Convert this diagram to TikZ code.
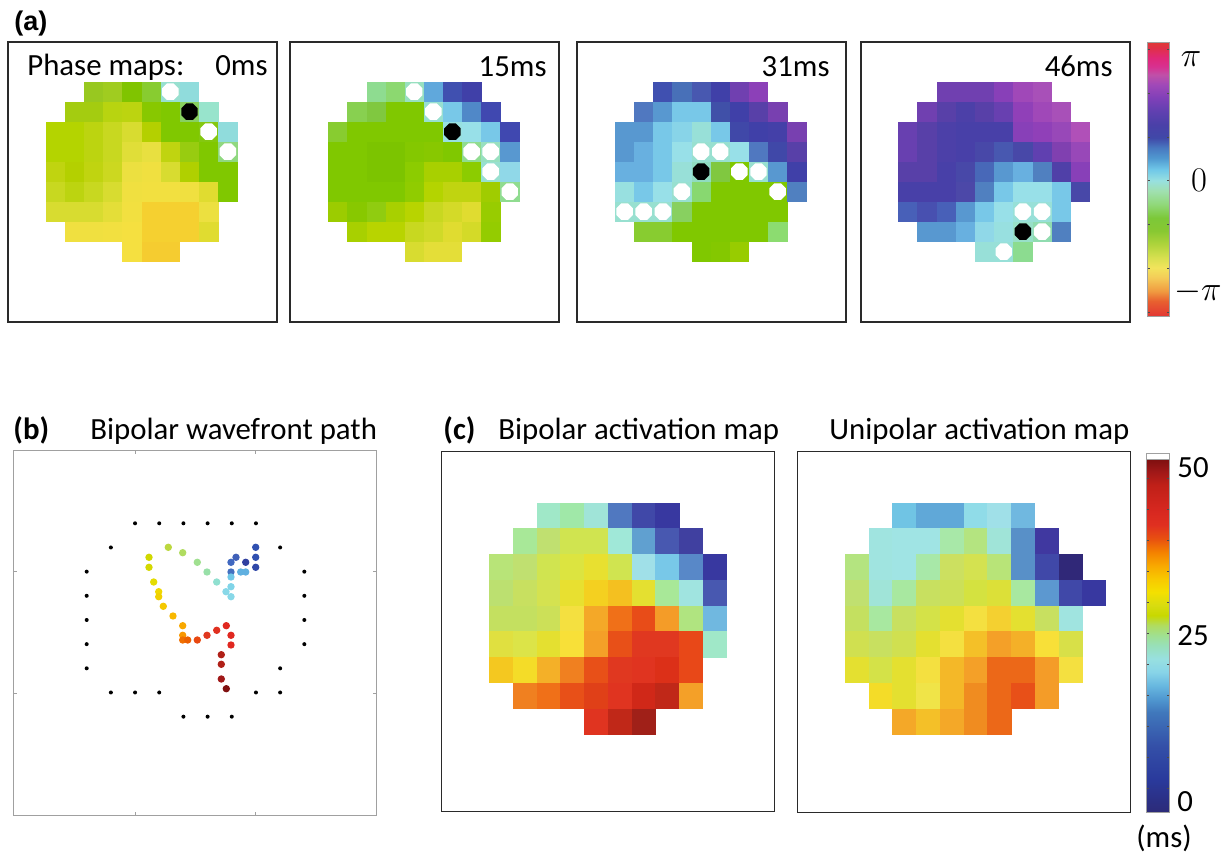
\documentclass[tikz,border=0pt]{standalone}
\usepackage[no-math]{fontspec}
\setmainfont{Carlito}
\newfontfamily\arialfont{Liberation Sans}

% colour bar stops
\definecolor{pb01}{HTML}{E23434}\definecolor{pb02}{HTML}{E8602F}\definecolor{pb03}{HTML}{F09A40}
\definecolor{pb04}{HTML}{F4CC58}\definecolor{pb05}{HTML}{F2E45C}\definecolor{pb06}{HTML}{D8E050}
\definecolor{pb07}{HTML}{B0D43C}\definecolor{pb08}{HTML}{88C832}\definecolor{pb09}{HTML}{7CC838}
\definecolor{pb10}{HTML}{90D878}\definecolor{pb11}{HTML}{A0E0B0}\definecolor{pb12}{HTML}{98E0E0}
\definecolor{pb13}{HTML}{70C8E8}\definecolor{pb14}{HTML}{5098D0}\definecolor{pb15}{HTML}{4878C0}
\definecolor{pb16}{HTML}{4048A8}\definecolor{pb17}{HTML}{4A40A8}\definecolor{pb18}{HTML}{6040B0}
\definecolor{pb19}{HTML}{8040B8}\definecolor{pb20}{HTML}{A048B8}\definecolor{pb21}{HTML}{C050A8}
\definecolor{pb22}{HTML}{D83090}\definecolor{pb23}{HTML}{E02878}\definecolor{pb24}{HTML}{E03048}
\definecolor{pb25}{HTML}{E03838}
\pgfdeclareverticalshading{phasebar}{100bp}{color(0bp)=(pb01); color(25bp)=(pb01);
  color(27.9bp)=(pb02); color(29.7bp)=(pb03); color(32.2bp)=(pb04); color(34bp)=(pb05);
  color(35.8bp)=(pb06); color(38.2bp)=(pb07); color(40.7bp)=(pb08); color(43.1bp)=(pb09);
  color(45.5bp)=(pb10); color(48bp)=(pb11); color(49.9bp)=(pb12); color(51.9bp)=(pb13);
  color(54bp)=(pb14); color(55.9bp)=(pb15); color(57.7bp)=(pb16); color(60.1bp)=(pb17);
  color(62.5bp)=(pb18); color(65bp)=(pb19); color(67.4bp)=(pb20); color(69.2bp)=(pb21);
  color(70.7bp)=(pb22); color(72.3bp)=(pb23); color(74.1bp)=(pb24); color(75bp)=(pb25);
  color(100bp)=(pb25)}

\definecolor{ab01}{HTML}{2C2A78}\definecolor{ab02}{HTML}{2A3A9C}\definecolor{ab03}{HTML}{3450A8}
\definecolor{ab04}{HTML}{4078BC}\definecolor{ab05}{HTML}{5098D0}\definecolor{ab06}{HTML}{68B8E0}
\definecolor{ab07}{HTML}{88D4E8}\definecolor{ab08}{HTML}{98E0E0}\definecolor{ab09}{HTML}{98E0B8}
\definecolor{ab10}{HTML}{A0E090}\definecolor{ab11}{HTML}{B0DC60}\definecolor{ab12}{HTML}{C8D800}
\definecolor{ab13}{HTML}{D8DC10}\definecolor{ab14}{HTML}{F4E000}\definecolor{ab15}{HTML}{F8C800}
\definecolor{ab16}{HTML}{F8A800}\definecolor{ab17}{HTML}{F48000}\definecolor{ab18}{HTML}{E85010}
\definecolor{ab19}{HTML}{E03020}\definecolor{ab20}{HTML}{D82820}\definecolor{ab21}{HTML}{C02018}
\definecolor{ab22}{HTML}{A01818}\definecolor{ab23}{HTML}{801010}
\pgfdeclareverticalshading{actbar}{100bp}{color(0bp)=(ab01); color(25bp)=(ab01);
  color(29.74bp)=(ab02); color(34.48bp)=(ab03); color(39.22bp)=(ab04); color(41.11bp)=(ab05);
  color(43.01bp)=(ab06); color(44.91bp)=(ab07); color(46.8bp)=(ab08); color(48.7bp)=(ab09);
  color(50.12bp)=(ab10); color(51.54bp)=(ab11); color(52.96bp)=(ab12); color(54.38bp)=(ab13);
  color(56.28bp)=(ab14); color(58.18bp)=(ab15); color(60.07bp)=(ab16); color(61.97bp)=(ab17);
  color(63.86bp)=(ab18); color(65.76bp)=(ab19); color(67.65bp)=(ab20); color(71.45bp)=(ab21);
  color(73.34bp)=(ab22); color(75bp)=(ab23); color(100bp)=(ab23)}

\definecolor{frame}{HTML}{2A2A2A}
\definecolor{axisgray}{HTML}{A0A0A0}

% one row of coloured electrode cells: x0, y0, cell width, cell height, row, first column, colours
\newcommand\maprow[7]{%
  \foreach \hx [count=\ci from #6] in {#7}{%
    \edef\tmp{\noexpand\definecolor{cellc}{HTML}{\hx}}\tmp
    \fill[cellc] ({#1+\ci*#3},{#2+#5*#4}) rectangle ({#1+(\ci+1)*#3+0.4},{#2+(#5+1)*#4+0.4});
  }}
\newcommand\prow[3]{\maprow{\mx}{\my}{\mw}{\mh}{#1}{#2}{#3}}
% phase singularity markers (small octagons) at cell centres: colour, row, column
\newcommand\octmark[3]{%
  \pgfmathsetmacro\cx{\mx+(#3+0.5)*\mw}%
  \pgfmathsetmacro\cy{\my+(#2+0.5)*\mh}%
  \fill[#1] ({\cx+8.9*cos(22.5)},{\cy+8.9*sin(22.5)})
    \foreach \a in {67.5,112.5,...,337.5}{ -- ({\cx+8.9*cos(\a)},{\cy+8.9*sin(\a)}) } -- cycle;}
\newcommand\wmark[2]{\octmark{white}{#1}{#2}}
\newcommand\bmark[2]{\octmark{black}{#1}{#2}}

\begin{document}
\begin{tikzpicture}[x=0.5pt,y=-0.5pt,
  txt/.style={inner sep=0pt,font=\fontsize{15.4}{18}\selectfont},
  panellabel/.style={inner sep=0pt,font=\fontsize{15.4}{18}\selectfont\bfseries},
  mathlabel/.style={inner sep=0pt,font=\fontsize{19}{22}\selectfont},
  mapframe/.style={draw=frame,line width=0.7pt},
  barframe/.style={draw=axisgray,line width=0.5pt},
  bartick/.style={draw=black!70,line width=0.4pt}]
\useasboundingbox (0,0) rectangle (1229,854);
\fill[white] (0,0) rectangle (1229,854);

% ---------------- (a) phase maps ----------------
\node[inner sep=0pt,font=\arialfont\fontsize{13.5}{16}\selectfont\bfseries,anchor=west] (lblA) at (14,24) {(a)};

% 0 ms
\def\mx{45.7}\def\my{81.7}\def\mw{19.17}\def\mh{20}
\prow{0}{2}{98C820,A0CC20,80C400,88CC30,98E0D0,90DCDC}
\prow{1}{1}{A4CC10,A4CC10,B8D410,BCD410,88C800,80C800,88D060,98E4CC}
\prow{2}{0}{B4D400,B4D400,BCD410,C8D820,D8DC30,B4D000,80C800,80C800,84C810,90DCDC}
\prow{3}{0}{B4D400,B4D400,BCD410,C8D820,E0DE38,E8E040,C0D410,98CC10,80C800,90D880}
\prow{4}{0}{C0D410,B4D000,C0D410,CCD820,ECE040,F0E040,D8DC30,B0D000,80C800,80C800}
\prow{5}{0}{C8D820,BCD410,C8D820,D8DC30,F0E040,F2E040,F2E040,F0E040,E0DC30,80C800}
\prow{6}{0}{D8DC30,D8DC30,D8DC30,E4DE38,F2E040,F5D030,F5D030,F5D030,ECE040}
\prow{7}{1}{F0E040,F0E040,F2E040,F5E040,F5D030,F5D030,F5D030,E0DC30}
\prow{8}{4}{F5E040,F5CC30,F5CC30}
\wmark{0}{6}\wmark{2}{8}\wmark{3}{9}\bmark{1}{7}
\draw[mapframe] (8,42) rectangle (277,322);
\node[txt,anchor=base west] (phasetitle) at (27,76) {Phase maps:};
\node[txt,anchor=base east] (t0) at (268,76) {0ms};

% 15 ms
\def\mx{328.3}\def\my{81.7}\def\mw{19.1}\def\mh{20}
\prow{0}{2}{8EDC90,8CD870,98E0C0,60A8DC,4050B0,4040A8}
\prow{1}{1}{88D050,80C840,80C800,80C800,98E0D0,78C8E8,5088C8,4048B0}
\prow{2}{0}{88CC30,80C800,80C800,80C800,80C800,80C800,98E0E0,98E0E8,78C8E8,4048B0}
\prow{3}{0}{80C800,80C800,7CC400,7CC400,84C800,88C800,80C800,90DC90,98E0C0,5898D0}
\prow{4}{0}{80C800,80C800,7CC400,7CC400,8CCC00,A8D000,A8D000,8CCC00,98E0D0,90D8E8}
\prow{5}{0}{80C800,80C800,80C800,80C800,90CC00,B4D400,C0D410,C0D410,A0CC00,90DC90}
\prow{6}{0}{9CCC00,88C800,90CC10,A8D000,B8D400,C8D820,D4DA28,E0DC30,98CC00}
\prow{7}{1}{A8D000,B8D400,B8D400,C8D820,D0DA28,E0DC30,D4DA28,94CC00}
\prow{8}{4}{D8DC30,E4DE38,E4DE38}
\wmark{0}{4}\wmark{1}{5}\wmark{3}{7}\wmark{3}{8}\wmark{4}{8}\wmark{5}{9}\bmark{2}{6}
\draw[mapframe] (290,42) rectangle (559,322);
\node[txt,anchor=base east] (t15) at (547,76.5) {15ms};

% 31 ms
\def\mx{615}\def\my{81.7}\def\mw{19.13}\def\mh{20}
\prow{0}{2}{4050B0,4870B8,4858B0,4040A8,7040B0,8C40B8}
\prow{1}{1}{5078C0,5898D0,78C8E8,78C8E8,4050A8,4040A8,5840A8,7840B0}
\prow{2}{0}{5898D0,5898D0,78C8E8,88D4E8,98E0D8,78C8E8,4048A8,4040A8,4440A8,7840B0}
\prow{3}{0}{5898D0,68B0E0,78C8E8,98E0E8,98E0D0,98E0D0,98E0E8,5078C0,4048A8,5840A8}
\prow{4}{0}{68B0E0,68B0E0,78C8E8,98E0D8,90DCC0,80C840,80C800,98E0D0,5898D0,4040A8}
\prow{5}{0}{98E0E0,78C8E8,98E0E8,98E0D0,88D870,80C800,80C800,80C800,80C800,5080C0}
\prow{6}{0}{98E0D0,98E0D0,98E0D0,88D060,80C800,80C800,80C800,80C800,80C800}
\prow{7}{1}{88CC30,88CC30,80C800,80C800,80C800,80C800,80C800,8CDC70}
\prow{8}{4}{80C800,84C800,98CC00}
\wmark{3}{4}\wmark{3}{5}\wmark{4}{6}\wmark{4}{7}\wmark{5}{3}\wmark{5}{8}
\wmark{6}{0}\wmark{6}{1}\wmark{6}{2}\bmark{4}{4}
\draw[mapframe] (577,42) rectangle (846,322);
\node[txt,anchor=base east] (t31) at (830,76.5) {31ms};

% 46 ms
\def\mx{898.3}\def\my{81.7}\def\mw{19.17}\def\mh{20}
\prow{0}{2}{7040B0,7040B0,7040B0,8840B8,A048B8,A850B8}
\prow{1}{1}{7040B0,5840A8,4C40A8,5840A8,6840B0,9040B8,A048B8,A850B8}
\prow{2}{0}{6840B0,5840A8,4C40A8,4840A8,4840A8,4840A8,8840B8,9040B8,9848B8,B050B8}
\prow{3}{0}{6840B0,5840A8,4C40A8,4840A8,4848A8,4858B0,4848A8,6040B0,8040B0,9848B8}
\prow{4}{0}{5840A8,5840A8,4840A8,4848A8,4868B8,5898D0,68B0E0,5080C0,5040A8,8840B8}
\prow{5}{0}{4840A8,4840A8,4840A8,4C48A8,5080C0,78C8E8,98E0E8,98E0E8,78C8E8,4848A8}
\prow{6}{0}{4860B8,4850B0,4860B8,5898D0,78C8E8,98E0E8,98E0D8,98E0D8,78C8E8}
\prow{7}{1}{5898D0,5898D0,68B0E0,90D8E8,98E0E0,98E0C8,90DCB0,5080C0}
\prow{8}{4}{98E0D8,98E0D8,8CDC90}
\wmark{6}{6}\wmark{6}{7}\wmark{7}{7}\wmark{8}{5}\bmark{7}{6}
\draw[mapframe] (861,42) rectangle (1130,322);
\node[txt,anchor=base east] (t46) at (1113,76.5) {46ms};

% phase colour bar
\shade[shading=phasebar] (1147.7,43) rectangle (1169.3,317);
\draw[barframe] (1147.7,43) rectangle (1169.3,317);
\foreach \ty in {49,93,137,180.7,224.7,268,312}{
  \draw[bartick] (1147.7,\ty) -- ++(2.5,0);
  \draw[bartick] (1169.3,\ty) -- ++(-2.5,0);}
\node[mathlabel] (piTop) at (1191,59) {$\pi$};
\node[mathlabel] (zeroPh) at (1199,180) {$0$};
\node[mathlabel] (piBot) at (1198,292) {$-\pi$};

% ---------------- (b) wavefront path ----------------
\node[panellabel,anchor=base west] (lblB) at (13,440) {(b)};
\node[txt,anchor=base west] (titleB) at (90,440) {Bipolar wavefront path};
\draw[axisgray,line width=0.5pt] (13.3,450.7) rectangle (376.7,815);
\foreach \tx in {135,255.7}{
  \draw[axisgray,line width=0.5pt] (\tx,450.7) -- ++(0,3.5);
  \draw[axisgray,line width=0.5pt] (\tx,815) -- ++(0,-3.5);}
\foreach \ty in {571.7,693.3}{
  \draw[axisgray,line width=0.5pt] (13.3,\ty) -- ++(3.5,0);
  \draw[axisgray,line width=0.5pt] (376.7,\ty) -- ++(-3.5,0);}
% electrode positions
\foreach \i/\j in {2/0,3/0,4/0,5/0,6/0,7/0,1/1,8/1,0/2,9/2,0/3,9/3,0/4,9/4,0/5,9/5,
                   0/6,8/6,1/7,2/7,3/7,7/7,8/7,4/8,5/8,6/8}{
  \fill[black] ({86.7+24.18*\i},{523.3+24.17*\j}) circle (2);}
% wavefront positions, coloured by time
\foreach \px/\py/\hx in {
  255.7/547.3/3050B0, 255.7/557.3/3050B0, 255.7/567.3/3048A8, 245.7/562.3/3040A0,
  236/557.3/4060B8, 231/562.3/4068C0, 231/572/4470C0, 240.7/572/60B0E0, 245.7/572/60B0E0,
  231/577/70C8E8, 231/586.7/80D4E8, 226/591.7/88D8E8, 231/596.7/88D8E8,
  216.7/582/90E0D0, 207/572/98E0A8, 197.3/562.3/A0E090, 182.7/552.7/B0DC60,
  168.3/547.3/BCD840, 149/557.3/D0D800, 149/567.3/D4D800, 153.7/582/E4DC00,
  158.7/591.7/F0D800, 158.7/596.7/F0D000, 163.3/606.3/F4C800, 173/616/F8B800,
  182.7/625.7/F8A800, 182.7/635.3/F89800, 182.7/640/F07000, 187.7/640/EC6000,
  197.3/640/E84810, 207/635.3/E03820, 216.7/630.3/E03020, 226.3/625.7/E02820,
  231/635.3/E02820, 231/645/E02820, 221.3/654.7/B02018, 221.3/664.3/B02018,
  221.3/679/A01818, 226.3/688.7/801010}{
  \edef\tmp{\noexpand\definecolor{dotc}{HTML}{\hx}}\tmp
  \fill[dotc] (\px,\py) circle (3.7);}

% ---------------- (c) activation maps ----------------
\node[panellabel,anchor=base west] (lblC) at (443,440) {(c)};
\node[txt,anchor=base west] (titleC1) at (498,440) {Bipolar activation map};
\node[txt,anchor=base west] (titleC2) at (829,440) {Unipolar activation map};

% bipolar
\def\mx{489}\def\my{502.7}\def\mw{23.77}\def\mh{25.74}
\prow{0}{2}{A0E8C8,A0E8A8,A0E4D8,5078C0,4048A8,3838A0}
\prow{1}{1}{A8E898,C0E070,D0E450,D0E450,A0E8D8,60A0D0,4858B0,4040A0}
\prow{2}{0}{B8E478,C0E070,D0E450,DCE440,E8E030,D0E450,A0E0E8,78C8E8,5888C8,3838A0}
\prow{3}{0}{BCE070,C8E060,D4E250,E8E030,F4D020,F4C020,E4E030,A8E898,A0E4E0,4858B0}
\prow{4}{0}{C4E060,C4E060,CCE058,F4E040,F4A828,F07018,E84C18,F49C28,B0E480,70B8E0}
\prow{5}{0}{E0E040,DCE448,E4E030,F8E038,F4A028,E85018,E03820,E03820,E84818,A0E8C8}
\prow{6}{0}{F4C820,F4DC28,F4B028,F08020,E85018,E03820,E03420,DC3018,E84818}
\prow{7}{1}{F08020,F07018,E85018,E04018,E03420,D02818,C02818,F4A028}
\prow{8}{4}{E03420,C02818,A02018}
\draw[mapframe] (441.7,451.7) rectangle (774.3,811.7);

% unipolar
\def\mx{845}\def\my{502.7}\def\mw{23.73}\def\mh{25.74}
\prow{0}{2}{70C4E4,60A8D8,60A8D8,90DCE8,A0E0E8,70B8E0}
\prow{1}{1}{A0E4E0,A0E4E4,A0E4E4,A8E8A8,B4E480,A0E4D8,5890C8,4038A0}
\prow{2}{0}{B4E480,A0E4E0,A0E4E4,A8E8A8,CCE060,D4E250,B8E478,5890C8,4048A8,302878}
\prow{3}{0}{C0E070,A0E4D8,A8E8A0,C8E060,CCE058,D4E240,DCE038,A8E8A0,5C98D0,4048A8,3838A0}
\prow{4}{0}{C4E060,A8E8A0,C8E060,D4E248,E4E030,F4E040,F4D030,E4E030,C8E060,A0E4E0}
\prow{5}{0}{D0E050,C8E060,D0E050,E4E030,F4E040,F4C028,F4A028,F4B028,F8E038,D8E048}
\prow{6}{0}{E4E030,D4E248,E4E030,F4E040,F4B828,F4A028,EC6818,EC6818,F49C28,F4E040}
\prow{7}{1}{F4DC28,E4E030,F0E448,F4B828,F08C20,EC6818,E85018,F49C28}
\prow{8}{2}{F4A828,F4C028,F4A828,F08C20,EC6818}
\draw[mapframe] (797.3,451.7) rectangle (1130.7,812.3);

% activation colour bar
\shade[shading=actbar] (1146.7,460) rectangle (1169.3,812.3);
\draw[barframe] (1146.7,453.5) rectangle (1169.3,812.3);
\draw[axisgray,line width=0.5pt] (1146.7,460) -- (1169.3,460);
\foreach \k in {0,...,10}{
  \draw[bartick] (1146.7,{478+31*\k}) -- ++(2.5,0);
  \draw[bartick] (1169.3,{478+31*\k}) -- ++(-2.5,0);}
\node[txt,anchor=west] (v50) at (1177,467.5) {50};
\node[txt,anchor=west] (v25) at (1177,636) {25};
\node[txt,anchor=west] (v0) at (1177,802) {0};
\node[txt] (unit) at (1164,838) {(ms)};
\end{tikzpicture}
\end{document}
